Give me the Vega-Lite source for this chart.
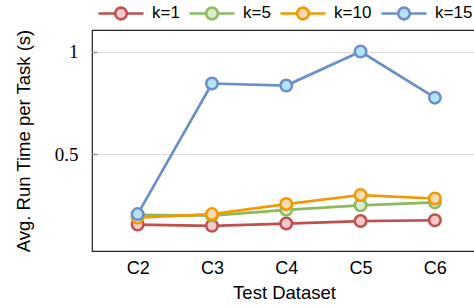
{
  "$schema": "https://vega.github.io/schema/vega-lite/v6.json",
  "autosize": "none",
  "padding": {"left": 92, "top": 30, "right": 0, "bottom": 57},
  "width": 384,
  "height": 221,
  "config": {
    "view": {"stroke": "#222", "strokeWidth": 1.2},
    "font": "Liberation Sans"
  },
  "data": {
    "values": [
      {"k": "k=1", "dataset": "C2", "time": 0.156},
      {"k": "k=1", "dataset": "C3", "time": 0.150},
      {"k": "k=1", "dataset": "C4", "time": 0.161},
      {"k": "k=1", "dataset": "C5", "time": 0.173},
      {"k": "k=1", "dataset": "C6", "time": 0.177},
      {"k": "k=5", "dataset": "C2", "time": 0.203},
      {"k": "k=5", "dataset": "C3", "time": 0.200},
      {"k": "k=5", "dataset": "C4", "time": 0.228},
      {"k": "k=5", "dataset": "C5", "time": 0.250},
      {"k": "k=5", "dataset": "C6", "time": 0.264},
      {"k": "k=10", "dataset": "C2", "time": 0.190},
      {"k": "k=10", "dataset": "C3", "time": 0.207},
      {"k": "k=10", "dataset": "C4", "time": 0.256},
      {"k": "k=10", "dataset": "C5", "time": 0.300},
      {"k": "k=10", "dataset": "C6", "time": 0.283},
      {"k": "k=15", "dataset": "C2", "time": 0.207},
      {"k": "k=15", "dataset": "C3", "time": 0.844},
      {"k": "k=15", "dataset": "C4", "time": 0.834},
      {"k": "k=15", "dataset": "C5", "time": 1.0},
      {"k": "k=15", "dataset": "C6", "time": 0.775}
    ]
  },
  "encoding": {
    "x": {
      "field": "dataset", "type": "nominal", "sort": null,
      "scale": {"type": "point", "padding": 0.584, "align": 0.526},
      "axis": {"title": "Test Dataset", "labelAngle": 0, "ticks": false, "domain": false,
               "labelFontSize": 18, "labelColor": "#000", "labelPadding": 8,
               "titleFontSize": 18.5, "titleFontWeight": "normal", "titleColor": "#000", "titlePadding": 6}
    },
    "y": {
      "field": "time", "type": "quantitative",
      "scale": {"domain": [0.027, 1.105], "nice": false, "zero": false},
      "axis": {"title": "Avg. Run Time per Task (s)", "values": [0.5, 1], "format": "~g",
               "domain": false, "grid": true, "gridColor": "#d9d9d9", "gridWidth": 1.2,
               "tickSize": -5, "tickColor": "#999", "tickWidth": 1.5,
               "labelFont": "Liberation Serif", "labelFontSize": 19, "labelColor": "#000", "labelPadding": 19,
               "titleFontSize": 18.5, "titleFontWeight": "normal", "titleColor": "#000", "titlePadding": 21}
    }
  },
  "layer": [
    {
      "mark": {"type": "line", "strokeWidth": 2.7},
      "encoding": {
        "stroke": {
          "field": "k", "type": "nominal",
          "scale": {"domain": ["k=1", "k=5", "k=10", "k=15"], "range": ["#c0504d", "#8cbb5d", "#f29800", "#6b8ec7"]},
          "legend": {
            "title": null, "orient": "none", "direction": "horizontal", "legendX": 5, "legendY": -41,
            "symbolType": "M-1,0L-0.26,0M0.26,0L1,0M-0.26,0A0.26,0.26,0,1,0,0.26,0A0.26,0.26,0,1,0,-0.26,0",
            "symbolSize": 2025, "symbolStrokeWidth": 2.6, "labelFontSize": 17, "labelColor": "#000",
            "labelOffset": 7, "columnPadding": 4,
            "encode": {"symbols": {"update": {"fill": {"scale": "fill", "field": "value"}, "fillOpacity": {"value": 1}}}}
          }
        }
      }
    },
    {
      "mark": {"type": "point", "shape": "circle", "size": 132, "strokeWidth": 2.5, "opacity": 1, "filled": false},
      "encoding": {
        "stroke": {"field": "k", "type": "nominal", "legend": null},
        "fill": {
          "field": "k", "type": "nominal",
          "scale": {"domain": ["k=1", "k=5", "k=10", "k=15"], "range": ["#f5c9c9", "#d9ecd0", "#fcd9b0", "#b3e3f8"]},
          "legend": null
        }
      }
    }
  ]
}
